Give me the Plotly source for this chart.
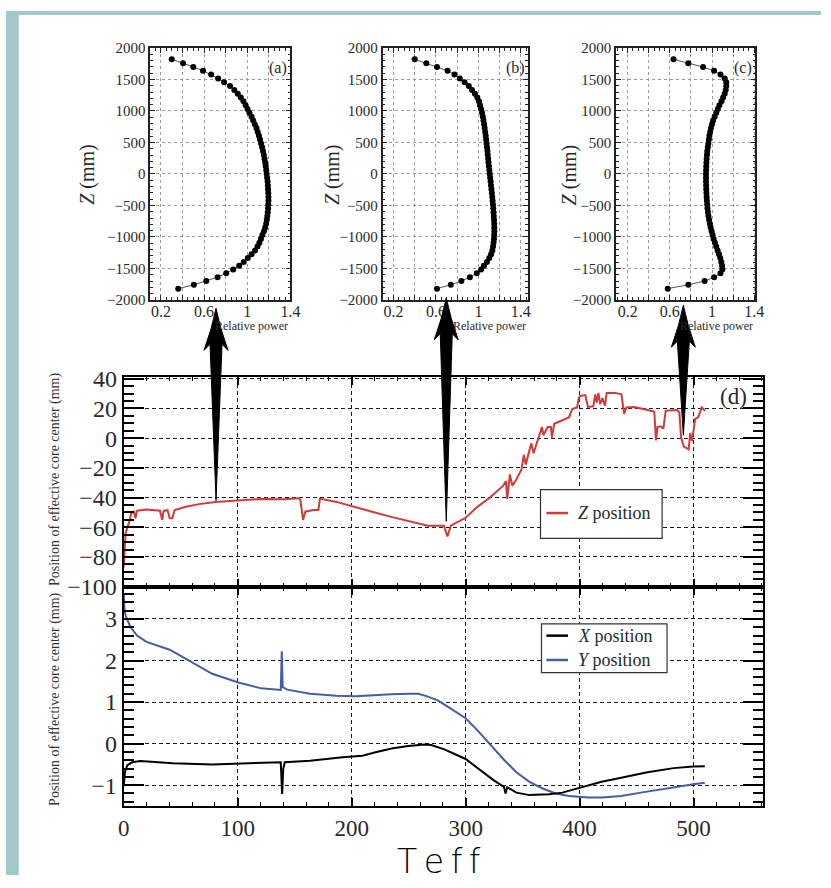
import plotly.graph_objects as go

W, H = 831, 888
SERIF = "Liberation Serif"

# ---------------- effective core centre versus Teff ----------------
z_t = [0, 1.7, 3, 5.4, 6.6, 8.9, 10.3, 11.7, 20, 31.8, 33.8, 35, 38.5, 40.4, 42.7, 44.7,
       54.7, 66, 80.5, 100.6, 120.6, 140.7, 153.6, 155, 157.3, 159.3, 166.5, 170.8, 172.2,
       186.5, 200.9, 218, 233.8, 249.6, 266.8, 281, 284, 287, 300, 310, 321.6, 333, 335.4,
       336.5, 338.8, 341, 344.6, 349, 351, 352.7, 357.6, 359.6, 363.3, 367, 368.2, 372,
       374.8, 375.7, 377.7, 390.6, 393.5, 397.8, 399.3, 400.7, 405, 407.3, 412, 413.7, 415,
       416.5, 418, 420, 422.3, 423.7, 431, 436.7, 439, 441, 448.2, 456.8, 465.5, 467, 468.3,
       471.2, 473.5, 475.5, 485.6, 487.5, 489, 491.4, 495.7, 497, 498.6, 501.4, 504, 507.2, 510]
z_pos = [-87, -64, -60.5, -55, -50.6, -49.5, -53.9, -48.8, -48, -48.8, -55, -49, -48.5, -53.9,
         -53.9, -48.4, -46.2, -44.4, -42.9, -41.8, -40.9, -41.1, -40.4, -41.5, -55, -49.5,
         -48.4, -48.4, -40.7, -42.9, -45.7, -49.5, -52.8, -55.6, -58.9, -58.9, -66.2, -58.9,
         -53.6, -46.4, -39.8, -32, -28.8, -40.9, -24.4, -32, -27.7, -21, -11.2, -17.8, -3.5,
         -10.1, -1.3, 7.5, 2, 7.5, 7.5, 0.4, 9.7, 14, 19.6, 20.7, 27.3, 28.4, 29, 21, 21.5,
         29.5, 24, 30.5, 22.9, 27, 21.8, 30.5, 30.5, 29.5, 16.3, 20.7, 21, 19.6, 18, -1.5, 7.5,
         8, 6.4, 18.5, 18.9, 17.5, 0.6, -5.7, -7.5, 3.5, -2, 13, 14, 20.7, 18.5]

x_t = [0, 0.5, 1.1, 3.2, 7.4, 14.6, 43, 77.7, 106, 137.8, 139, 140, 141.3, 163.6, 192, 209.5,
       221, 235, 249.6, 264, 269.8, 281.3, 300, 313, 324.4, 333.6, 335, 336.5, 344.5, 356,
       373.3, 384.8, 400, 419.3, 436.5, 459.5, 482.5, 499.7, 509.8]
x_pos = [-1.03, -0.85, -0.68, -0.52, -0.45, -0.42, -0.47, -0.5, -0.48, -0.45, -1.21, -0.6,
         -0.45, -0.41, -0.33, -0.29, -0.21, -0.12, -0.06, -0.02, -0.035, -0.14, -0.37, -0.65,
         -0.88, -1.04, -1.2, -1.05, -1.18, -1.24, -1.22, -1.18, -1.06, -0.92, -0.82, -0.69,
         -0.59, -0.55, -0.545]

y_t = [0, 0.8, 1.7, 6, 11.7, 20, 40.4, 60.5, 77.7, 100.6, 120.6, 137.8, 138.7, 139.5, 143.5,
       163.6, 186.5, 203.7, 221, 235, 249.6, 258.3, 265, 275.6, 287, 300, 310, 321.6, 333,
       344.5, 356, 367.5, 379, 390.5, 407.8, 419.3, 436.5, 453.7, 471, 488, 499.7, 509.8]
y_pos = [3.62, 3.2, 3.08, 2.8, 2.6, 2.45, 2.26, 1.94, 1.68, 1.47, 1.33, 1.29, 2.22, 1.36, 1.30,
         1.2, 1.15, 1.14, 1.17, 1.19, 1.2, 1.2, 1.15, 1.04, 0.84, 0.61, 0.33, -0.02, -0.37,
         -0.69, -0.92, -1.08, -1.2, -1.26, -1.3, -1.3, -1.26, -1.18, -1.1, -1.02, -0.98, -0.94]

# ---------------- axial relative power profiles ----------------
node_z = [1820 - i * 3640 / 60 for i in range(61)]
power_a = [0.30, 0.405, 0.50, 0.59, 0.665, 0.73, 0.785, 0.84, 0.88, 0.912, 0.94, 0.965, 0.985,
           1.002, 1.02, 1.04, 1.055, 1.07, 1.085, 1.097, 1.108, 1.118, 1.128, 1.138, 1.146,
           1.153, 1.16, 1.166, 1.171, 1.176, 1.18, 1.184, 1.188, 1.191, 1.193, 1.195, 1.196,
           1.196, 1.195, 1.193, 1.19, 1.186, 1.181, 1.175, 1.166, 1.155, 1.14, 1.127, 1.112,
           1.095, 1.072, 1.04, 1.005, 0.967, 0.925, 0.87, 0.805, 0.725, 0.62, 0.505, 0.36]
power_b = [0.40, 0.51, 0.61, 0.71, 0.775, 0.825, 0.87, 0.91, 0.94, 0.967, 0.99, 1.005, 1.015,
           1.025, 1.034, 1.042, 1.048, 1.054, 1.059, 1.064, 1.069, 1.073, 1.077, 1.081, 1.085,
           1.088, 1.092, 1.095, 1.099, 1.103, 1.107, 1.111, 1.115, 1.119, 1.123, 1.127, 1.131,
           1.134, 1.137, 1.14, 1.143, 1.145, 1.147, 1.149, 1.15, 1.15, 1.149, 1.147, 1.143,
           1.138, 1.132, 1.12, 1.103, 1.08, 1.052, 1.025, 0.985, 0.92, 0.84, 0.74, 0.61, 0.445][:61]
power_c = [0.635, 0.775, 0.915, 1.02, 1.08, 1.12, 1.135, 1.135, 1.13, 1.12, 1.105, 1.09, 1.07,
           1.055, 1.04, 1.025, 1.01, 1.0, 0.99, 0.982, 0.975, 0.97, 0.965, 0.96, 0.955, 0.952,
           0.949, 0.947, 0.945, 0.944, 0.943, 0.943, 0.943, 0.944, 0.945, 0.947, 0.949, 0.951,
           0.954, 0.957, 0.961, 0.966, 0.972, 0.979, 0.987, 0.996, 1.005, 1.015, 1.027, 1.04,
           1.053, 1.066, 1.078, 1.088, 1.095, 1.098, 1.08, 1.02, 0.93, 0.775, 0.58]
profiles = [power_a, power_b, power_c]
panel_tags = ["(a)", "(b)", "(c)"]

# Teff / Z points the three profiles were taken at
arrow_t = [81, 283, 491]
arrow_z = [-42, -56, 2]

# ---------------- layout geometry (pixels -> paper) ----------------
def px(v):
    return v / W


def py(v):
    return 1 - v / H


MAIN_X = [px(120), px(772)]
TOP_Y = [py(592), py(376)]
BOT_Y = [py(817), py(592)]
PROF_Y = [py(297), py(38)]
PROF_X = [[px(147), px(290)], [px(384), px(532)], [px(622), px(764)]]
PROF_RANGE = [[0.1, 1.4], [0.098, 1.465], [0.09, 1.41]]
Z_RANGE = [-100.2, 41.3]
XY_RANGE = [-1.5, 3.77]
T_RANGE = [0, 561]
ARROW_APEX = [311, 301, 306]

RED = "#d23a3a"
BLUE = "#4a5ba6"
TXT = "#2a2a2a"

fig = go.Figure()

fig.add_trace(go.Scatter(x=z_t, y=z_pos, mode="lines", line=dict(color=RED, width=2),
                         xaxis="x", yaxis="y", showlegend=False))
fig.add_trace(go.Scatter(x=y_t, y=y_pos, mode="lines", line=dict(color=BLUE, width=2),
                         xaxis="x2", yaxis="y2", showlegend=False))
fig.add_trace(go.Scatter(x=x_t, y=x_pos, mode="lines", line=dict(color="black", width=2),
                         xaxis="x2", yaxis="y2", showlegend=False))

for i, p in enumerate(profiles):
    n = i + 3
    fig.add_trace(go.Scatter(x=p, y=node_z, mode="lines+markers",
                             line=dict(color="#4a5580", width=1),
                             marker=dict(color="black", size=6),
                             xaxis=f"x{n}", yaxis=f"y{n}", showlegend=False))

main_grid = dict(showgrid=True, gridcolor="#1a1a1a", gridwidth=1, griddash="4px,3px")
frame = dict(showline=True, linecolor="black", linewidth=2, mirror="allticks", zeroline=False)
tick_font = dict(family=SERIF, size=24, color=TXT)

layout = dict(
    width=W, height=H, margin=dict(l=0, r=0, t=0, b=0),
    font=dict(family=SERIF, color=TXT),
    paper_bgcolor="white", plot_bgcolor="white", showlegend=False,
    xaxis=dict(domain=MAIN_X, anchor="y", range=T_RANGE, matches="x2", showticklabels=False,
               tick0=0, dtick=100, ticks="inside", ticklen=8, tickwidth=1.5, tickcolor="black",
               minor=dict(dtick=20, ticks="inside", ticklen=4, tickcolor="black", tickwidth=1),
               **main_grid, **frame),
    xaxis2=dict(domain=MAIN_X, anchor="y2", range=T_RANGE, tick0=0, dtick=100,
                ticks="inside", ticklen=8, tickwidth=1.5, tickcolor="black",
                minor=dict(dtick=20, ticks="inside", ticklen=4, tickcolor="black", tickwidth=1),
                tickfont=dict(family=SERIF, size=23, color=TXT),
                **main_grid, **frame),
    yaxis=dict(domain=TOP_Y, anchor="x", range=Z_RANGE, tick0=0, dtick=20,
               ticks="inside", ticklen=20, tickwidth=2, tickcolor="black",
               minor=dict(dtick=5, ticks="inside", ticklen=10, tickcolor="black", tickwidth=1.5),
               tickfont=tick_font, **main_grid, **frame),
    yaxis2=dict(domain=BOT_Y, anchor="x2", range=XY_RANGE, tick0=0, dtick=1,
                ticks="inside", ticklen=20, tickwidth=2, tickcolor="black",
                minor=dict(dtick=0.2, ticks="inside", ticklen=10, tickcolor="black",
                           tickwidth=1.5),
                tickfont=tick_font, **main_grid, **frame),
)

prof_grid = dict(showgrid=True, gridcolor="#9a9a9a", gridwidth=1, griddash="dot")
prof_frame = dict(showline=True, linecolor="#222", linewidth=1.5, mirror="allticks",
                  zeroline=False)
for i in range(3):
    n = i + 3
    layout[f"xaxis{n}"] = dict(
        domain=PROF_X[i], anchor=f"y{n}", range=PROF_RANGE[i],
        tickvals=[0.2, 0.4, 0.6, 0.8, 1.0, 1.2, 1.4],
        ticktext=["0.2", "", "0.6", "", "1", "", "1.4"],
        ticks="inside", ticklen=5, tickcolor="#222", ticklabelstandoff=-4,
        minor=dict(dtick=0.05, tick0=0, ticks="inside", ticklen=3, tickcolor="#222"),
        tickfont=dict(family=SERIF, size=16, color=TXT), **prof_grid, **prof_frame)
    layout[f"yaxis{n}"] = dict(
        domain=PROF_Y, anchor=f"x{n}", range=[-2000, 2000], tick0=0, dtick=500,
        ticks="inside", ticklen=5, tickcolor="#222",
        minor=dict(dtick=100, ticks="inside", ticklen=3, tickcolor="#222"),
        tickfont=dict(family=SERIF, size=15, color=TXT), **prof_grid, **prof_frame)

fig.update_layout(**layout)

# ---------------- decorations ----------------
shapes = [
    dict(type="rect", xref="paper", yref="paper", x0=0, x1=px(13), y0=0, y1=1,
         fillcolor="#a4c7cb", line=dict(width=0), layer="above"),
    dict(type="rect", xref="paper", yref="paper", x0=0, x1=1, y0=py(4), y1=1,
         fillcolor="#a4c7cb", line=dict(width=0), layer="above"),
]


def z_to_paper(z):
    lo, hi = Z_RANGE
    return TOP_Y[0] + (z - lo) / (hi - lo) * (TOP_Y[1] - TOP_Y[0])


for t, z, apex in zip(arrow_t, arrow_z, ARROW_APEX):
    yp = z_to_paper(z)
    h = (1 - yp) * H - apex
    path = (f"M0,0 L6,{h - 36:.1f} L12,{h - 42:.1f} Q4,{h - 20:.1f} 0,{h:.1f} "
            f"Q-4,{h - 20:.1f} -12,{h - 42:.1f} L-6,{h - 36:.1f} Z")
    shapes.append(dict(type="path", xref="x", yref="paper", xsizemode="pixel",
                       ysizemode="pixel", xanchor=t, yanchor=yp, path=path,
                       fillcolor="black", line=dict(color="black", width=1), layer="above"))

# legend boxes
legend_boxes = [(545, 492, 669, 542), (546, 630, 674, 680)]
for x0, y0, x1, y1 in legend_boxes:
    shapes.append(dict(type="rect", xref="paper", yref="paper", x0=px(x0), x1=px(x1),
                       y0=py(y1), y1=py(y0), fillcolor="white",
                       line=dict(color="#333", width=1.2), layer="above"))

legend_items = [("<i>Z</i> position", RED, 516), ("<i>X</i> position", "black", 642),
                ("<i>Y</i> position", BLUE, 667)]
annotations = []
for label, color, yy in legend_items:
    shapes.append(dict(type="line", xref="paper", yref="paper", x0=px(551), x1=px(573),
                       y0=py(yy), y1=py(yy), line=dict(color=color, width=2.5), layer="above"))
    annotations.append(dict(text=label, xref="paper", yref="paper", x=px(581), y=py(yy),
                            xanchor="left", yanchor="middle", showarrow=False,
                            font=dict(family=SERIF, size=18, color=TXT)))

# profile panel labels and titles
z_title_x = [83, 333, 575]
for i in range(3):
    n = i + 3
    annotations.append(dict(text=panel_tags[i], xref=f"x{n} domain", yref=f"y{n} domain",
                            x=1, y=1, xanchor="right", yanchor="top", xshift=-1, yshift=-9,
                            showarrow=False, font=dict(family=SERIF, size=16, color=TXT)))
    annotations.append(dict(text="Relative power", xref=f"x{n} domain", yref="paper",
                            x=1, y=py(315), xanchor="right", yanchor="top", showarrow=False,
                            font=dict(family=SERIF, size=12, color=TXT)))
    annotations.append(dict(text="<i>Z</i> (mm)", xref="paper", yref="paper",
                            x=px(z_title_x[i]), y=py(168), xanchor="center", yanchor="middle",
                            textangle=-90, showarrow=False,
                            font=dict(family=SERIF, size=20, color=TXT)))

annotations.append(dict(text="(d)", xref="x domain", yref="y domain", x=1, y=1,
                        xanchor="right", yanchor="top", xshift=-14, yshift=-5,
                        showarrow=False, font=dict(family=SERIF, size=23, color=TXT)))

for yc in (482, 708):
    annotations.append(dict(text="Position of effective core center (mm)", xref="paper",
                            yref="paper", x=px(50), y=py(yc), xanchor="center",
                            yanchor="middle", textangle=-90, showarrow=False,
                            font=dict(family=SERIF, size=14, color="#333")))

annotations.append(dict(text="T\u2009e\u2009f\u2009f", xref="paper", yref="paper",
                        x=px(441), y=py(874), xanchor="center", yanchor="middle",
                        showarrow=False,
                        font=dict(family="DejaVu Sans", size=33, color="black", weight=200)))

fig.update_layout(shapes=shapes, annotations=annotations)
fig.write_html("out.html")
